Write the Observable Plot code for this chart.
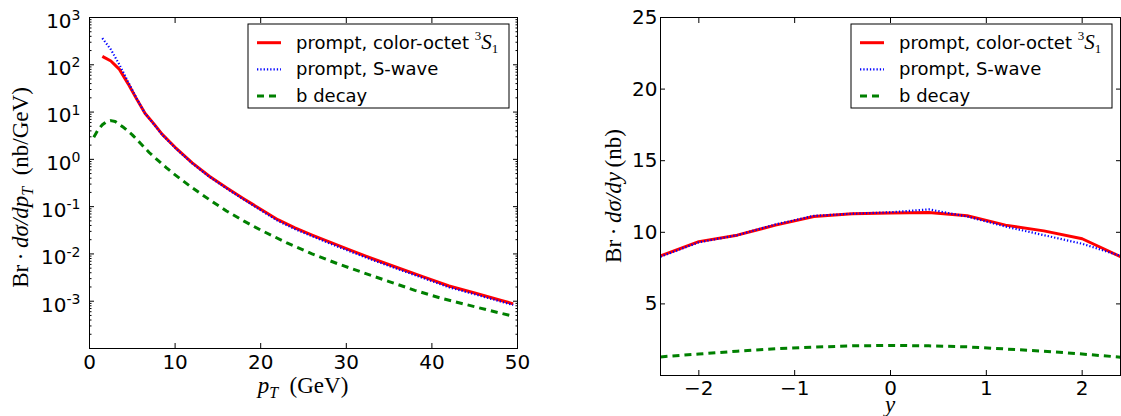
<!DOCTYPE html>
<html><head><meta charset="utf-8">
<script src="https://cdn.jsdelivr.net/npm/d3@7"></script>
<script src="https://cdn.jsdelivr.net/npm/@observablehq/plot@0.6"></script>
<style>
body{margin:0;background:#fff;}
#wrap{display:flex;width:1121px;height:416px;overflow:hidden;}
svg{font-family:"DejaVu Sans";}
</style></head><body><div id="wrap"></div>
<script>
// ---- Left panel: dσ/dpT (nb/GeV) ----
const ptPrompt = [1.5, 2.5, 3.5, 4.5, 5.5, 6.5, 7.5, 8.5, 10, 12, 14, 16, 18, 20, 22, 24, 26, 28, 30, 33, 36, 39, 42, 45, 48, 49.5];
const octetPt  = [151, 120, 80, 40, 19, 9.3, 5.7, 3.37, 1.8, 0.84, 0.44, 0.25, 0.147, 0.088, 0.053, 0.0356, 0.0251, 0.0179, 0.0129, 0.0080, 0.0051, 0.00327, 0.0021, 0.00149, 0.00105, 0.00088];
const swavePt  = [365, 210, 100, 44, 19.5, 9.3, 5.6, 3.3, 1.76, 0.82, 0.43, 0.243, 0.142, 0.084, 0.050, 0.0335, 0.0237, 0.0169, 0.0121, 0.0075, 0.0048, 0.00308, 0.00197, 0.0014, 0.00099, 0.00083];
const ptB      = [0.5, 1, 1.5, 2, 2.5, 3, 4, 5, 6, 7, 8, 9, 10, 12, 14, 16, 18, 20, 23, 26, 29, 32, 35, 38, 41, 44, 47, 49.5];
const bdecayPt = [2.95, 4.2, 5.4, 6.3, 6.6, 6.3, 4.7, 3.3, 2.14, 1.38, 0.95, 0.66, 0.47, 0.25, 0.141, 0.081, 0.050, 0.032, 0.0174, 0.0100, 0.0062, 0.0040, 0.0026, 0.0017, 0.00117, 0.00085, 0.00062, 0.00048];

// ---- Right panel: dσ/dy (nb) ----
const rapidity = [-2.4, -2.0, -1.6, -1.2, -0.8, -0.4, 0, 0.4, 0.8, 1.2, 1.6, 2.0, 2.4];
const octetY   = [8.35, 9.35, 9.8, 10.5, 11.1, 11.3, 11.35, 11.38, 11.15, 10.5, 10.1, 9.55, 8.3];
const swaveY   = [8.3, 9.3, 9.8, 10.55, 11.15, 11.3, 11.4, 11.6, 11.1, 10.4, 9.8, 9.2, 8.35];
const bdecayY  = [1.3, 1.5, 1.7, 1.87, 1.98, 2.07, 2.1, 2.07, 2.0, 1.85, 1.7, 1.5, 1.28];

// ---- Ticks & labels ----
const ptTicks = [0, 10, 20, 30, 40, 50];
const logTicks = [1e-3, 1e-2, 1e-1, 1, 10, 100, 1000];
const logMinor = d3.range(-4, 3).flatMap(e => d3.range(2, 10).map(m => m * Math.pow(10, e)));
const sigTicks = [5, 10, 15, 20, 25];
const rapTicks = [-2, -1, 0, 1, 2];
const legendLabels = ["prompt, color-octet ", "prompt, S-wave", "b decay"];

const redStyle = {stroke: "#ff0000", strokeWidth: 3, strokeLinecap: "butt"};
const blueStyle = {stroke: "#0000ff", strokeWidth: 2.2, strokeDasharray: "1.3,2", strokeLinecap: "butt"};
const greenStyle = {stroke: "#008000", strokeWidth: 3, strokeDasharray: "7,5", strokeLinecap: "butt"};
const seriesStyles = [redStyle, blueStyle, greenStyle];

function series(xs, ys, style) {
  return Plot.line(ys, {x: (d, i) => xs[i], y: d => d, ...style});
}
const baseStyle = {background: "#fff", color: "#000", fontFamily: "DejaVu Sans", fontSize: "20px", overflow: "visible"};
const fmtInt = d => (d < 0 ? "\u2212" : "") + Math.abs(d);

const left = Plot.plot({
  width: 560, height: 416, marginLeft: 89, marginRight: 43, marginTop: 17, marginBottom: 68,
  style: baseStyle,
  x: {domain: [0, 50]},
  y: {type: "log", domain: [1e-4, 1e3]},
  marks: [
    Plot.axisX({ticks: ptTicks, tickSize: 0, tickPadding: 6, label: null, fontSize: 20, tickFormat: fmtInt}),
    Plot.axisX({ticks: ptTicks, tickSize: -5, text: null, label: null}),
    Plot.axisX({anchor: "top", ticks: ptTicks, tickSize: -5, text: null, label: null}),
    Plot.axisY({ticks: logTicks, tickSize: 0, tickPadding: 9, dy: 4, label: null, fontSize: 20,
      tickFormat: d => "10^" + Math.round(Math.log10(d))}),
    Plot.axisY({ticks: logTicks, tickSize: -5, text: null, label: null}),
    Plot.axisY({anchor: "right", ticks: logTicks, tickSize: -5, text: null, label: null}),
    Plot.axisY({ticks: logMinor, tickSize: -2.5, text: null, label: null}),
    Plot.axisY({anchor: "right", ticks: logMinor, tickSize: -2.5, text: null, label: null}),
    series(ptPrompt, octetPt, redStyle),
    series(ptPrompt, swavePt, blueStyle),
    series(ptB, bdecayPt, greenStyle),
    Plot.frame({stroke: "#000", strokeWidth: 1})
  ]
});

const right = Plot.plot({
  width: 561, height: 416, marginLeft: 100, marginRight: 1, marginTop: 17, marginBottom: 41,
  style: baseStyle,
  x: {domain: [-2.4, 2.4]},
  y: {domain: [0, 25]},
  marks: [
    Plot.axisX({ticks: rapTicks, tickSize: 0, tickPadding: 5, label: null, fontSize: 20, tickFormat: fmtInt}),
    Plot.axisX({ticks: rapTicks, tickSize: -5, text: null, label: null}),
    Plot.axisX({anchor: "top", ticks: rapTicks, tickSize: -5, text: null, label: null}),
    Plot.axisY({ticks: sigTicks, tickSize: 0, tickPadding: 3, label: null, fontSize: 20, tickFormat: fmtInt}),
    Plot.axisY({ticks: sigTicks, tickSize: -5, text: null, label: null}),
    Plot.axisY({anchor: "right", ticks: sigTicks, tickSize: -5, text: null, label: null}),
    series(rapidity, octetY, redStyle),
    series(rapidity, swaveY, blueStyle),
    series(rapidity, bdecayY, greenStyle),
    Plot.frame({stroke: "#000", strokeWidth: 1})
  ]
});

document.getElementById("wrap").append(left, right);

// exponent tick labels
d3.select(left).selectAll("text").each(function() {
  const m = /^10\^(-?\d+)$/.exec(this.textContent);
  if (!m) return;
  const t = d3.select(this);
  t.text(null);
  t.append("tspan").text("10");
  t.append("tspan").attr("dy", "-0.55em").attr("font-size", 14).text(m[1]);
});

const SERIF = "Liberation Serif, Times New Roman, serif";
function addParts(sel, parts) {
  parts.forEach(p => {
    const ts = sel.append("tspan").text(p.t);
    if (p.i) ts.attr("font-style", "italic");
    if (p.s) ts.attr("font-size", p.s);
    if (p.dy) ts.attr("dy", p.dy);
  });
}

function yLabel(svg, x, y, parts) {
  const t = d3.select(svg).append("text")
    .attr("transform", `translate(${x},${y}) rotate(-90)`)
    .attr("text-anchor", "middle").attr("font-family", SERIF).attr("font-size", 23).attr("fill", "#000");
  addParts(t, parts);
}
function xLabel(svg, x, y, parts) {
  const t = d3.select(svg).append("text")
    .attr("x", x).attr("y", y)
    .attr("text-anchor", "middle").attr("font-family", SERIF).attr("font-size", 23).attr("fill", "#000");
  addParts(t, parts);
}

const lx = left.scale("x").range, ly = left.scale("y").range;
const rx = right.scale("x").range, ry = right.scale("y").range;

yLabel(left, 28, (ly[0] + ly[1]) / 2 + 5, [
  {t: "Br\u2009·\u2009"}, {t: "dσ/dp", i: true}, {t: "T", i: true, s: 16, dy: 5},
  {t: "\u2002(nb/GeV)", dy: -5}
]);
xLabel(left, (lx[0] + lx[1]) / 2, 393, [
  {t: "p", i: true}, {t: "T", i: true, s: 16, dy: 5}, {t: "\u2002(GeV)", dy: -5}
]);
yLabel(right, 621 - 560, (ry[0] + ry[1]) / 2, [
  {t: "Br\u2009·\u2009"}, {t: "dσ/dy", i: true}, {t: "\u2009(nb)"}
]);
xLabel(right, (rx[0] + rx[1]) / 2, 412, [{t: "y", i: true}]);

function legend(svg, plotRight) {
  const w = 261, h = 84, x0 = plotRight - 8 - w, y0 = 24;
  const g = d3.select(svg).append("g");
  g.append("rect").attr("x", x0).attr("y", y0).attr("width", w).attr("height", h)
    .attr("fill", "#fff").attr("stroke", "#000").attr("stroke-width", 1);
  legendLabels.forEach((lab, i) => {
    const yy = y0 + 18.7 + i * 26.6;
    const st = seriesStyles[i];
    g.append("line").attr("x1", x0 + 9).attr("x2", x0 + 33).attr("y1", yy).attr("y2", yy)
      .attr("stroke", st.stroke).attr("stroke-width", st.strokeWidth)
      .attr("stroke-linecap", "butt")
      .attr("stroke-dasharray", st.strokeDasharray || null);
    const t = g.append("text").attr("x", x0 + 48).attr("y", yy + 6).attr("text-anchor", "start")
      .attr("font-family", "DejaVu Sans").attr("font-size", 18).attr("fill", "#000").text(lab);
    if (i === 0) {
      t.append("tspan").attr("font-family", SERIF).attr("font-size", 13).attr("dy", -9).text("3");
      t.append("tspan").attr("font-family", SERIF).attr("font-style", "italic").attr("font-size", 21).attr("dy", 9).text("S");
      t.append("tspan").attr("font-family", SERIF).attr("font-size", 13).attr("dy", 4).text("1");
    }
  });
}
legend(left, lx[1]);
legend(right, rx[1]);
</script>
</body></html>
